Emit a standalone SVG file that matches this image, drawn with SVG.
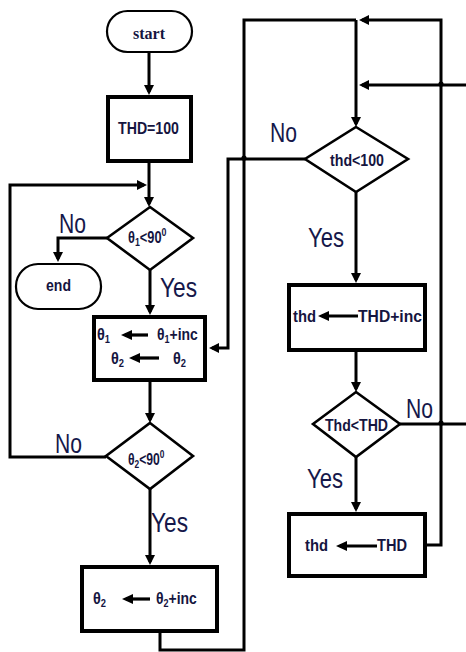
<svg xmlns="http://www.w3.org/2000/svg" width="466" height="652" viewBox="0 0 466 652">
  <style>
    .term { fill: #fff; stroke: #000; stroke-width: 2.2; }
    .box { fill: #fff; stroke: #000; stroke-width: 4; }
    .dia { fill: #fff; stroke: #000; stroke-width: 2.6; }
    .wire { fill: none; stroke: #000; stroke-width: 3; stroke-linejoin: miter; }
    .assign { fill: none; stroke: #000; stroke-width: 3.2; }
    .bt { font-family: "Liberation Sans", Arial, sans-serif; font-weight: bold; font-size: 17px; fill: #15153f; }
    .dt { font-family: "Liberation Sans", Arial, sans-serif; font-weight: bold; font-size: 16px; fill: #15153f; }
    .lbl { font-family: "Liberation Sans", Arial, sans-serif; font-size: 27px; fill: #15184a; }
    .serif { font-family: "Liberation Serif", "Times New Roman", serif; font-weight: bold; font-size: 16px; fill: #15153f; }
    .sub { font-size: 11px; }
  </style>
  <defs>
    <marker id="ah" markerUnits="userSpaceOnUse" markerWidth="11" markerHeight="11" refX="7" refY="5" orient="auto">
      <path d="M0,0 L10,5 L0,10 z" fill="#000"/>
    </marker>
    <marker id="ahs" markerUnits="userSpaceOnUse" markerWidth="12" markerHeight="11" refX="7" refY="5" orient="auto">
      <path d="M0,0 L11,5 L0,10 z" fill="#000"/>
    </marker>
  </defs>

  <!-- connectors -->
  <g id="connectors">
    <path class="wire" d="M149,53 V92" marker-end="url(#ah)"/>
    <path class="wire" d="M149,163 V204" marker-end="url(#ah)"/>
    <path class="wire" d="M106,457 H10 V185 H144" marker-end="url(#ah)"/>
    <path class="wire" d="M107,238 H58 V259" marker-end="url(#ah)"/>
    <path class="wire" d="M150,270 V312" marker-end="url(#ah)"/>
    <path class="wire" d="M150,382 V420" marker-end="url(#ah)"/>
    <path class="wire" d="M150,489 V562" marker-end="url(#ah)"/>
    <path class="wire" d="M160,633 V650 H244 V20 H356"/>
    <path class="wire" d="M427,545 H441 V20 H362" marker-end="url(#ah)"/>
    <path class="wire" d="M356,20 V124" marker-end="url(#ah)"/>
    <path class="wire" d="M466,85 H362" marker-end="url(#ah)"/>
    <path class="wire" d="M305,159 H228 V348 H212" marker-end="url(#ah)"/>
    <path class="wire" d="M356,192 V280" marker-end="url(#ah)"/>
    <path class="wire" d="M356,352 V389" marker-end="url(#ah)"/>
    <path class="wire" d="M356,457 V509" marker-end="url(#ah)"/>
    <path class="wire" d="M400,424 H466"/>
    <!-- crossing humps -->
    <circle cx="244" cy="158" r="2.6" fill="#000"/>
    <circle cx="441" cy="84" r="2.6" fill="#000"/>
    <circle cx="441" cy="423" r="2.6" fill="#000"/>
    <!-- branch labels -->
    <text class="lbl" x="59" y="233" textLength="27" lengthAdjust="spacingAndGlyphs">No</text>
    <text class="lbl" x="160" y="297" textLength="37" lengthAdjust="spacingAndGlyphs">Yes</text>
    <text class="lbl" x="55" y="453" textLength="27" lengthAdjust="spacingAndGlyphs">No</text>
    <text class="lbl" x="151" y="532" textLength="37" lengthAdjust="spacingAndGlyphs">Yes</text>
    <text class="lbl" x="270" y="142" textLength="27" lengthAdjust="spacingAndGlyphs">No</text>
    <text class="lbl" x="308" y="247" textLength="36" lengthAdjust="spacingAndGlyphs">Yes</text>
    <text class="lbl" x="406" y="418" textLength="27" lengthAdjust="spacingAndGlyphs">No</text>
    <text class="lbl" x="307" y="488" textLength="36" lengthAdjust="spacingAndGlyphs">Yes</text>
  </g>

  <g id="start">
    <rect class="term" x="107" y="11" width="85" height="41" rx="20.5"/>
    <text class="serif" x="149" y="39" text-anchor="middle">start</text>
  </g>

  <g id="init">
    <rect class="box" x="108" y="97" width="83" height="64"/>
    <text class="bt" x="118" y="134" textLength="61" lengthAdjust="spacingAndGlyphs">THD=100</text>
  </g>

  <g id="check1">
    <polygon class="dia" points="150,207 193,238 150,270 107,238"/>
    <text class="dt" transform="translate(128 243) scale(0.8 1)">θ<tspan class="sub" dy="3">1</tspan><tspan dy="-3">&lt;90</tspan><tspan class="sub" dy="-7">0</tspan></text>
  </g>

  <g id="end">
    <rect class="term" x="16" y="264" width="85" height="45" rx="22"/>
    <text class="bt" x="46" y="291" textLength="25" lengthAdjust="spacingAndGlyphs">end</text>
  </g>

  <g id="step1">
    <rect class="box" x="94" y="317" width="111" height="63"/>
    <text class="bt" transform="translate(97 340) scale(0.85 1)">θ<tspan class="sub" dy="3">1</tspan></text>
    <path class="assign" d="M148,335 H125" marker-end="url(#ahs)"/>
    <text class="bt" transform="translate(157 340) scale(0.82 1)">θ<tspan class="sub" dy="3">1</tspan><tspan dy="-3">+inc</tspan></text>
    <text class="bt" transform="translate(111 364) scale(0.85 1)">θ<tspan class="sub" dy="3">2</tspan></text>
    <path class="assign" d="M159,358 H133" marker-end="url(#ahs)"/>
    <text class="bt" transform="translate(173 364) scale(0.85 1)">θ<tspan class="sub" dy="3">2</tspan></text>
  </g>

  <g id="check2">
    <polygon class="dia" points="150,423 193,456 150,489 106,456"/>
    <text class="dt" transform="translate(128 465) scale(0.76 1)">θ<tspan class="sub" dy="3">2</tspan><tspan dy="-3">&lt;90</tspan><tspan class="sub" dy="-7">0</tspan></text>
  </g>

  <g id="step2">
    <rect class="box" x="82" y="567" width="135" height="64"/>
    <text class="bt" transform="translate(93 604) scale(0.85 1)">θ<tspan class="sub" dy="3">2</tspan></text>
    <path class="assign" d="M150,599 H126" marker-end="url(#ahs)"/>
    <text class="bt" transform="translate(156 604) scale(0.82 1)">θ<tspan class="sub" dy="3">2</tspan><tspan dy="-3">+inc</tspan></text>
  </g>

  <g id="check3">
    <polygon class="dia" points="356,127 408,159 356,192 305,159"/>
    <text class="dt" x="330" y="166" textLength="54" lengthAdjust="spacingAndGlyphs">thd&lt;100</text>
  </g>

  <g id="step3">
    <rect class="box" x="289" y="285" width="136" height="65"/>
    <text class="bt" x="293" y="322" textLength="23" lengthAdjust="spacingAndGlyphs">thd</text>
    <path class="assign" d="M358,316 H322" marker-end="url(#ahs)"/>
    <text class="bt" x="358" y="322" textLength="64" lengthAdjust="spacingAndGlyphs">THD+inc</text>
  </g>

  <g id="check4">
    <polygon class="dia" points="356,392 400,424 356,457 313,424"/>
    <text class="dt" x="325" y="431" textLength="63" lengthAdjust="spacingAndGlyphs">Thd&lt;THD</text>
  </g>

  <g id="step4">
    <rect class="box" x="289" y="514" width="136" height="62"/>
    <text class="bt" x="305" y="551" textLength="23" lengthAdjust="spacingAndGlyphs">thd</text>
    <path class="assign" d="M377,546 H340" marker-end="url(#ahs)"/>
    <text class="bt" x="377" y="551" textLength="30" lengthAdjust="spacingAndGlyphs">THD</text>
  </g>
</svg>
